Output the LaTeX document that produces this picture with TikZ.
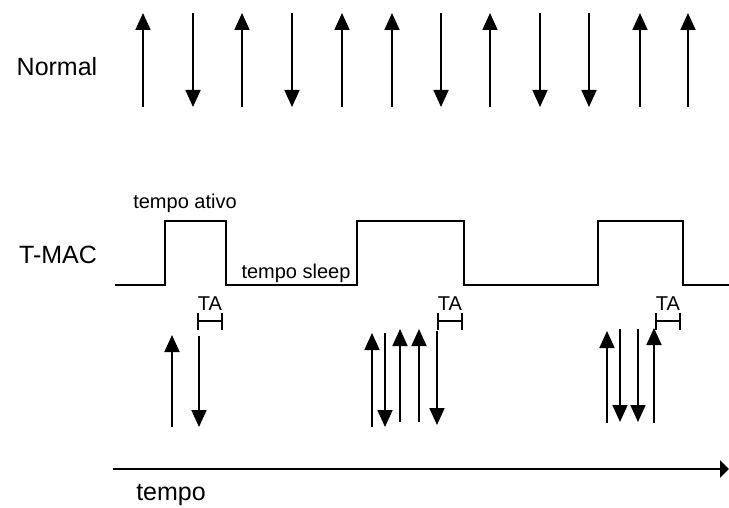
\documentclass[tikz,border=0pt]{standalone}
\usepackage{fontspec}
\setmainfont{Liberation Sans}
\usetikzlibrary{arrows.meta,positioning}

\tikzset{
  msg/.style={line width=1.8pt, -{Triangle[length=17pt,width=15pt]}},
  wave/.style={line width=1.5pt},
  lbl/.style={inner sep=0pt, font=\fontsize{25}{30}\selectfont},
  small/.style={inner sep=0pt, font=\fontsize{20}{24}\selectfont},
}

\begin{document}
\begin{tikzpicture}[x=1pt,y=-1pt]
\useasboundingbox (0,0) rectangle (729,508);

% normal transmission
\node[lbl] (normal) at (57,67) {Normal};
\foreach \x/\ya/\yb [count=\i] in {143/107/13, 193/13/107, 242/107/13, 292/13/107,
    342/107/13, 392/107/13, 441/13/107, 490/107/13, 540/13/107, 589/13/107,
    640/107/13, 688/107/13} {
    \coordinate (n\i-a) at (\x,\ya);
    \coordinate (n\i-b) at (\x,\yb);
    \draw[msg] (n\i-a) -- (n\i-b);
}

% T-MAC duty cycle
\node[lbl] (tmac) at (58,255) {T-MAC};
\draw[wave] (115,285) -- (165,285) -- (165,221) -- (226,221) -- (226,285)
    -- (357,285) -- (357,221) -- (464,221) -- (464,285) -- (598,285)
    -- (598,221) -- (683,221) -- (683,285) -- (729,285);
\node[small] (ativo) at (185,203) {tempo ativo};
\node[small] (sleep) at (296,273) {tempo sleep};

\foreach \a/\b [count=\i] in {197/223, 437/463, 655/681} {
    \coordinate (ta\i-l) at (\a,321);
    \coordinate (ta\i-r) at (\b,321);
    \draw[line width=1.7pt, {Bar[width=17pt]}-{Bar[width=17pt]}] (ta\i-l) -- (ta\i-r);
    \path (ta\i-l) -- (ta\i-r) node[midway, above=10pt, small] (talbl\i) {TA};
}

\foreach \x/\ya/\yb [count=\i] in {172/427/335, 199/336/427,
    372/427/333, 385/333/427, 400/422/329, 419/422/329, 437/331/425,
    607/423/331, 620/329/422, 638/329/422, 654/423/328} {
    \coordinate (m\i-a) at (\x,\ya);
    \coordinate (m\i-b) at (\x,\yb);
    \draw[msg] (m\i-a) -- (m\i-b);
}

% time axis
\coordinate (t0) at (113,469);
\coordinate (t1) at (729,469);
\draw[line width=2.2pt, -{Triangle[length=9pt,width=17pt]}] (t0) -- (t1);
\node[lbl] (tempo) at (171,495) {tempo};
\end{tikzpicture}
\end{document}
